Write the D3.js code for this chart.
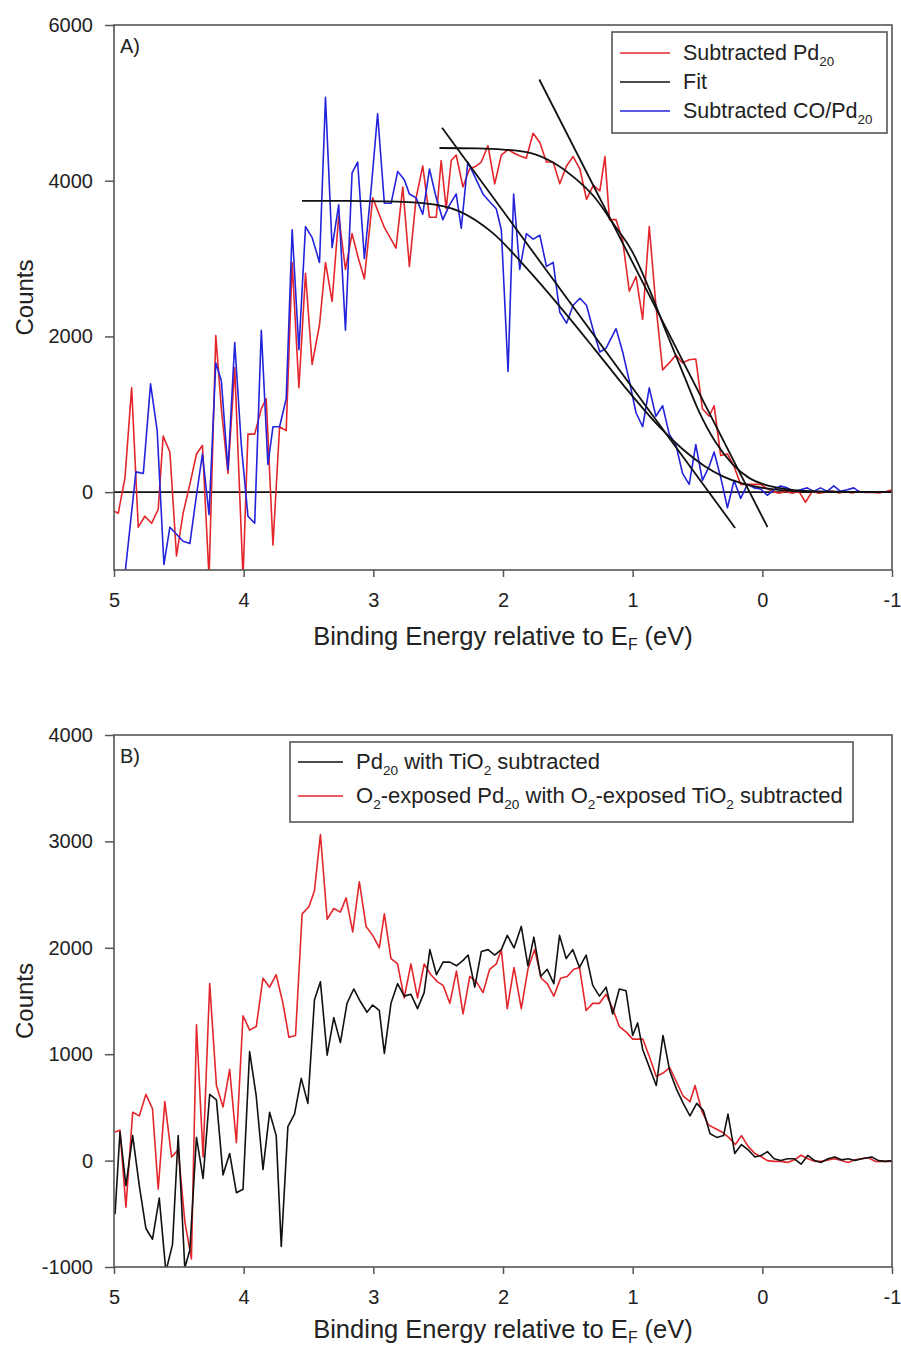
<!DOCTYPE html>
<html><head><meta charset="utf-8">
<script src="https://cdn.jsdelivr.net/npm/d3@7"></script>
<style>
body{margin:0;background:#fff}
svg{display:block}
text{font-family:"Liberation Sans",Arial,Helvetica,sans-serif;fill:#222}
</style>
</head><body>
<svg id="chart" width="901" height="1349"></svg>
<script>
// ---------- DATA ----------
const xTicks = [5, 4, 3, 2, 1, 0, -1];
const yTicksA = [0, 2000, 4000, 6000];
const yTicksB = [-1000, 0, 1000, 2000, 3000, 4000];

// Panel A: Subtracted Pd20 (red) [binding energy eV, counts]
const aPd20 = [[5.00,-245],[4.967,-270],[4.915,190],[4.864,1340],[4.813,-450],[4.762,-310],[4.710,-400],[4.659,-220],[4.621,720],[4.569,515],[4.518,-820],[4.467,-270],[4.415,100],[4.364,490],[4.318,600],[4.267,-1100],[4.215,2010],[4.172,1070],[4.121,240],[4.069,1600],[4.005,-1100],[3.967,745],[3.915,745],[3.864,1070],[3.826,1200],[3.774,-680],[3.723,840],[3.672,790],[3.626,2950],[3.574,1340],[3.523,2810],[3.472,1640],[3.415,2150],[3.369,2950],[3.318,2450],[3.267,3550],[3.215,2860],[3.164,3320],[3.115,3000],[3.069,2740],[3.005,3780],[2.915,3400],[2.825,3135],[2.773,3920],[2.722,2900],[2.670,3780],[2.619,4190],[2.567,3530],[2.515,3530],[2.477,4260],[2.438,3640],[2.399,4260],[2.361,4330],[2.309,3920],[2.258,4150],[2.206,4190],[2.168,4240],[2.116,4450],[2.064,3960],[2.013,4330],[1.961,4400],[1.910,4350],[1.858,4310],[1.820,4290],[1.768,4610],[1.716,4490],[1.665,4240],[1.613,4240],[1.562,3960],[1.510,4190],[1.459,4310],[1.407,4150],[1.356,3760],[1.304,3940],[1.253,3870],[1.214,4310],[1.179,3500],[1.128,3500],[1.077,3230],[1.026,2580],[0.974,2770],[0.923,2220],[0.872,3410],[0.821,2400],[0.769,1570],[0.718,1660],[0.667,1760],[0.615,1660],[0.564,1700],[0.513,1710],[0.462,1070],[0.410,975],[0.372,1110],[0.321,470],[0.269,490],[0.218,330],[0.167,100],[0.115,100],[0.064,100],[0.013,100],[-0.026,55],[-0.077,10],[-0.128,-15],[-0.179,10],[-0.231,-15],[-0.282,10],[-0.333,-130],[-0.385,10],[-0.436,-15],[-0.487,0],[-0.538,15],[-0.590,-10],[-0.641,5],[-0.692,-10],[-0.744,10],[-0.795,-5],[-0.846,0],[-0.897,-10],[-0.949,5],[-1.0,30]];

// Panel A: Subtracted CO/Pd20 (blue)
const aCOPd20 = [[5.0,-1050],[4.915,-1050],[4.831,260],[4.774,240],[4.718,1390],[4.667,790],[4.615,-930],[4.569,-450],[4.518,-540],[4.467,-630],[4.415,-660],[4.364,-40],[4.318,490],[4.267,-290],[4.215,1660],[4.172,1430],[4.121,285],[4.069,1920],[4.018,600],[3.967,-310],[3.915,-400],[3.864,2080],[3.813,355],[3.774,840],[3.723,840],[3.672,1200],[3.626,3370],[3.574,1830],[3.523,3410],[3.472,3270],[3.415,2950],[3.369,5070],[3.318,3140],[3.267,3690],[3.215,2080],[3.164,4100],[3.121,4240],[3.069,3000],[3.018,3870],[2.967,4860],[2.915,3710],[2.863,3710],[2.812,4120],[2.760,4010],[2.722,3830],[2.670,3780],[2.619,3570],[2.567,4150],[2.515,3780],[2.464,3500],[2.412,3690],[2.361,3830],[2.322,3390],[2.271,4240],[2.219,4060],[2.155,3830],[2.103,3730],[2.052,3640],[2.013,3370],[1.961,1550],[1.918,3830],[1.871,2860],[1.820,3320],[1.768,3250],[1.716,3300],[1.665,2900],[1.613,2950],[1.562,2310],[1.510,2170],[1.459,2400],[1.407,2490],[1.356,2400],[1.304,2080],[1.253,1800],[1.205,1850],[1.128,2100],[1.077,1800],[1.026,1430],[0.974,1020],[0.923,840],[0.872,1340],[0.821,975],[0.769,1110],[0.718,745],[0.667,610],[0.615,240],[0.564,100],[0.513,610],[0.462,150],[0.410,330],[0.372,515],[0.321,190],[0.269,-200],[0.218,150],[0.167,-80],[0.115,100],[0.064,55],[0.013,40],[-0.038,-40],[-0.090,30],[-0.141,80],[-0.192,55],[-0.244,10],[-0.295,30],[-0.346,55],[-0.397,10],[-0.449,55],[-0.500,10],[-0.551,80],[-0.603,10],[-0.654,30],[-0.705,55],[-0.744,10]];

// Panel A: fits
const aFitPd20 = [[2.49,4420],[2.2,4415],[2.0,4400],[1.8,4360],[1.6,4220],[1.45,4040],[1.3,3800],[1.15,3450],[1.0,3080],[0.87,2600],[0.74,2050],[0.6,1480],[0.49,1040],[0.36,640],[0.23,360],[0.1,180],[-0.03,90],[-0.2,35],[-0.4,10],[-0.7,2],[-1.0,0]];
const aFitCOPd20 = [[3.55,3740],[3.2,3740],[2.9,3735],[2.6,3710],[2.34,3610],[2.08,3330],[1.82,2880],[1.56,2380],[1.3,1850],[1.05,1330],[0.8,850],[0.62,560],[0.45,340],[0.3,200],[0.15,110],[0,55],[-0.2,20],[-0.5,5],[-1.0,0]];
const aTangentPd20 = [[1.72,5300],[-0.04,-450]];
const aTangentCOPd20 = [[2.47,4680],[0.21,-460]];

// Panel B: Pd20 with TiO2 subtracted (black)
const bPd20 = [[4.992,-504],[4.954,269],[4.908,-235],[4.856,235],[4.805,-235],[4.754,-638],[4.703,-739],[4.651,-353],[4.600,-1042],[4.549,-790],[4.505,235],[4.454,-1008],[4.415,-840],[4.364,218],[4.313,-168],[4.262,622],[4.210,571],[4.159,-134],[4.108,67],[4.056,-302],[4.005,-269],[3.954,1025],[3.903,605],[3.851,-84],[3.800,454],[3.749,235],[3.710,-806],[3.659,319],[3.608,437],[3.556,773],[3.505,538],[3.454,1512],[3.408,1680],[3.356,991],[3.305,1344],[3.254,1109],[3.203,1478],[3.151,1613],[3.100,1495],[3.049,1394],[3.005,1462],[2.954,1411],[2.915,1008],[2.864,1478],[2.813,1663],[2.762,1546],[2.710,1563],[2.659,1428],[2.608,1579],[2.564,1983],[2.513,1747],[2.462,1865],[2.410,1865],[2.359,1831],[2.308,1882],[2.269,1932],[2.218,1630],[2.167,1966],[2.115,1983],[2.064,1932],[2.013,1983],[1.967,2117],[1.915,1999],[1.859,2201],[1.808,1831],[1.762,2100],[1.710,1731],[1.659,1798],[1.608,1663],[1.564,2117],[1.513,1899],[1.462,1983],[1.410,1815],[1.359,1932],[1.308,1647],[1.256,1546],[1.205,1630],[1.154,1378],[1.103,1613],[1.051,1596],[1.000,1176],[0.962,1294],[0.922,1042],[0.870,874],[0.818,706],[0.766,1176],[0.714,840],[0.662,672],[0.610,538],[0.558,420],[0.506,538],[0.455,470],[0.403,252],[0.351,218],[0.299,235],[0.265,437],[0.213,67],[0.161,151],[0.109,101],[0.057,34],[0.005,50],[-0.039,84],[-0.091,17],[-0.143,0],[-0.195,17],[-0.247,17],[-0.299,-34],[-0.351,50],[-0.403,0],[-0.455,-17],[-0.506,17],[-0.558,34],[-0.610,7],[-0.662,17],[-0.714,0],[-0.766,17],[-0.844,34],[-0.896,0],[-0.948,-7],[-1.0,0]];

// Panel B: O2-exposed Pd20 with O2-exposed TiO2 subtracted (red)
const bO2Pd20 = [[4.992,269],[4.954,286],[4.908,-437],[4.856,454],[4.805,420],[4.754,622],[4.703,487],[4.659,-269],[4.608,554],[4.556,34],[4.505,101],[4.454,-571],[4.403,-924],[4.364,1277],[4.313,34],[4.262,1663],[4.210,706],[4.159,504],[4.108,857],[4.056,168],[4.005,1361],[3.954,1226],[3.903,1260],[3.851,1714],[3.800,1630],[3.749,1747],[3.697,1478],[3.651,1159],[3.600,1176],[3.549,2319],[3.497,2386],[3.454,2537],[3.408,3065],[3.356,2268],[3.305,2369],[3.254,2335],[3.210,2470],[3.159,2150],[3.108,2621],[3.056,2201],[3.005,2117],[2.954,1999],[2.915,2319],[2.864,1899],[2.813,1848],[2.762,1529],[2.710,1848],[2.659,1529],[2.608,1848],[2.556,1747],[2.505,1680],[2.462,1647],[2.410,1478],[2.359,1781],[2.308,1378],[2.256,1731],[2.205,1680],[2.154,1579],[2.103,1798],[2.051,1848],[2.013,1983],[1.967,1428],[1.915,1815],[1.859,1428],[1.808,1798],[1.756,1983],[1.705,1714],[1.659,1663],[1.608,1546],[1.556,1714],[1.505,1731],[1.454,1798],[1.410,1815],[1.359,1411],[1.308,1478],[1.256,1478],[1.205,1563],[1.154,1428],[1.103,1260],[1.051,1210],[1.000,1142],[0.974,1142],[0.922,1142],[0.870,974],[0.818,790],[0.766,823],[0.714,874],[0.662,739],[0.610,605],[0.558,554],[0.519,706],[0.468,470],[0.416,336],[0.364,302],[0.312,269],[0.260,218],[0.208,151],[0.161,235],[0.109,134],[0.057,67],[0.005,34],[-0.039,0],[-0.091,-7],[-0.143,-7],[-0.195,-17],[-0.247,7],[-0.299,50],[-0.351,17],[-0.403,-7],[-0.455,-7],[-0.506,7],[-0.558,17],[-0.610,0],[-0.662,-17],[-0.714,7],[-0.766,17],[-0.818,27],[-0.870,-7],[-0.922,-7],[-1.0,-7]];

// ---------- DRAWING ----------
const svg = d3.select("#chart");
const RED = "#e3262b", BLUE = "#2323dc", BLACK = "#111";
const FRAME = "#555";
const FONT = '"Liberation Sans",Arial,sans-serif';

// write a text made of plain parts and {s: subscript} parts
function richText(textSel, parts, fs, subDy) {
  let offset = 0;
  parts.forEach(p => {
    if (typeof p === "object") {
      textSel.append("tspan").attr("font-size", fs * 0.62).attr("dy", subDy - offset).text(p.s);
      offset = subDy;
    } else {
      textSel.append("tspan").attr("dy", -offset).text(p);
      offset = 0;
    }
  });
}

function panel(opts) {
  const x = d3.scaleLinear().domain([5, -1]).range([114, 892]);
  const y = d3.scaleLinear().domain(opts.yDomain).range([opts.bottom, opts.top]);
  const g = svg.append("g");
  const clipId = "clip" + opts.id;
  g.append("clipPath").attr("id", clipId).append("rect")
    .attr("x", 114).attr("y", opts.top).attr("width", 892 - 114).attr("height", opts.bottom - opts.top);

  const fmt = d => String(d);
  const xa = g.append("g").attr("transform", `translate(0,${opts.bottom})`)
    .call(d3.axisBottom(x).tickValues(xTicks).tickSize(7).tickPadding(16).tickFormat(fmt));
  const ya = g.append("g").attr("transform", `translate(114,0)`)
    .call(d3.axisLeft(y).tickValues(opts.yTicks).tickSize(9).tickPadding(12).tickFormat(fmt));
  [xa, ya].forEach(a => {
    a.select(".domain").remove();
    a.selectAll("line").attr("stroke", FRAME).attr("stroke-width", 1.5);
    a.selectAll("text").attr("font-size", 20).attr("fill", "#222").attr("font-family", FONT);
  });

  const plot = g.append("g").attr("clip-path", `url(#${clipId})`);
  const line = d3.line().x(d => x(d[0])).y(d => y(d[1]));
  const smooth = d3.line().x(d => x(d[0])).y(d => y(d[1])).curve(d3.curveMonotoneX);

  if (opts.zeroLine) {
    plot.append("line").attr("x1", x(5)).attr("x2", x(-1)).attr("y1", y(0)).attr("y2", y(0))
      .attr("stroke", BLACK).attr("stroke-width", 1.6);
  }
  opts.series.forEach(s => {
    plot.append("path").datum(s.data)
      .attr("d", s.smooth ? smooth : line)
      .attr("fill", "none").attr("stroke", s.color).attr("stroke-width", s.width || 1.6)
      .attr("stroke-linejoin", "round");
  });

  g.append("rect").attr("x", 114).attr("y", opts.top).attr("width", 892 - 114)
    .attr("height", opts.bottom - opts.top).attr("fill", "none")
    .attr("stroke", FRAME).attr("stroke-width", 1.6);

  g.append("text").attr("x", 120).attr("y", opts.top + 28).attr("font-size", 20).text(opts.tag);
  g.append("text").attr("transform", `translate(33,${(opts.top + opts.bottom) / 2}) rotate(-90)`)
    .attr("text-anchor", "middle").attr("font-size", 24).text("Counts");
  const t = g.append("text").attr("x", 503).attr("y", opts.bottom + opts.titleGap)
    .attr("text-anchor", "middle").attr("font-size", 25.5);
  richText(t, ["Binding Energy relative to E", { s: "F" }, " (eV)"], 25.5, 5);

  const L = opts.legend;
  g.append("rect").attr("x", L.x).attr("y", L.y).attr("width", L.w).attr("height", L.h)
    .attr("fill", "#fff").attr("stroke", FRAME).attr("stroke-width", 1.6);
  L.items.forEach((it, i) => {
    const cy = L.y + L.row0 + i * L.dy;
    g.append("line").attr("x1", L.lx1).attr("x2", L.lx2).attr("y1", cy).attr("y2", cy)
      .attr("stroke", it.color).attr("stroke-width", 1.6);
    const tx = g.append("text").attr("x", L.tx).attr("y", cy + 7).attr("font-size", L.fs);
    richText(tx, it.parts, L.fs, 6);
  });
}

panel({
  id: "A", top: 25, bottom: 570, yDomain: [-1000, 6000], yTicks: yTicksA, tag: "A)", zeroLine: true, titleGap: 75,
  series: [
    { data: aPd20, color: RED },
    { data: aCOPd20, color: BLUE },
    { data: aFitPd20, color: BLACK, smooth: true, width: 1.8 },
    { data: aFitCOPd20, color: BLACK, smooth: true, width: 1.8 },
    { data: aTangentPd20, color: BLACK, width: 1.8 },
    { data: aTangentCOPd20, color: BLACK, width: 1.8 }
  ],
  legend: { x: 612, y: 32, w: 275, h: 101, row0: 21, dy: 29, lx1: 620, lx2: 670, tx: 683, fs: 21.5,
    items: [
      { color: RED, parts: ["Subtracted Pd", { s: "20" }] },
      { color: BLACK, parts: ["Fit"] },
      { color: BLUE, parts: ["Subtracted CO/Pd", { s: "20" }] }
    ] }
});

panel({
  id: "B", top: 735, bottom: 1267, yDomain: [-1000, 4000], yTicks: yTicksB, tag: "B)", zeroLine: false, titleGap: 71,
  series: [
    { data: bO2Pd20, color: RED },
    { data: bPd20, color: BLACK }
  ],
  legend: { x: 290, y: 742, w: 563, h: 80, row0: 20, dy: 34, lx1: 298, lx2: 343, tx: 356, fs: 22,
    items: [
      { color: BLACK, parts: ["Pd", { s: "20" }, " with TiO", { s: "2" }, " subtracted"] },
      { color: RED, parts: ["O", { s: "2" }, "-exposed Pd", { s: "20" }, " with O", { s: "2" }, "-exposed TiO", { s: "2" }, " subtracted"] }
    ] }
});
</script>
</body></html>
